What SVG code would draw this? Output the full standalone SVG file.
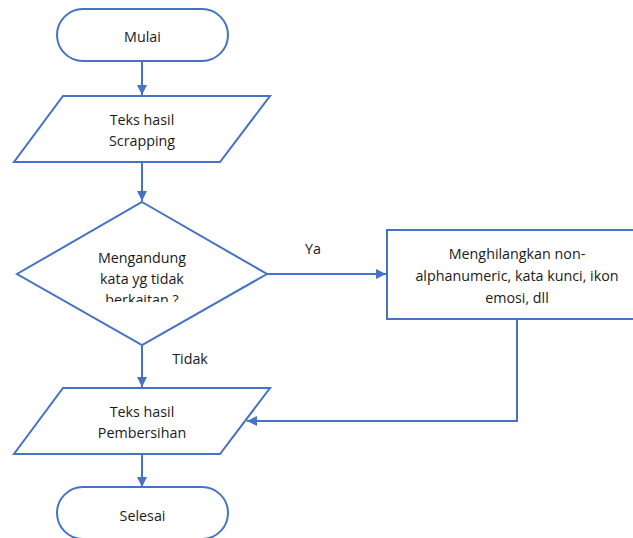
<svg xmlns="http://www.w3.org/2000/svg" width="633" height="538" viewBox="0 0 633 538">
<style>
.s{fill:#fff;stroke:#4472C4;stroke-width:2}
.c{fill:none;stroke:#4472C4;stroke-width:2}
text{font-family:"Open Sans","Liberation Sans",sans-serif;font-size:14.3px;fill:#1a1a1a;text-anchor:middle}
</style>
<defs>
<marker id="a" viewBox="0 0 10 10" refX="10" refY="5" markerWidth="5" markerHeight="5" orient="auto" markerUnits="strokeWidth">
<path d="M0,0 L10,5 L0,10 z" fill="#4472C4"/>
</marker>
<clipPath id="dc"><rect x="60" y="235" width="165" height="67"/></clipPath>
</defs>
<g id="connectors">
<line class="c" x1="142" y1="61" x2="142" y2="95" marker-end="url(#a)"/>
<line class="c" x1="142" y1="162" x2="142" y2="201" marker-end="url(#a)"/>
<line class="c" x1="267" y1="274" x2="386" y2="274" marker-end="url(#a)"/>
<line class="c" x1="142" y1="345" x2="142" y2="387" marker-end="url(#a)"/>
<polyline class="c" points="517,319 517,421 247,421" marker-end="url(#a)"/>
<line class="c" x1="142" y1="454" x2="142" y2="487" marker-end="url(#a)"/>
<text x="313" y="254">Ya</text>
<text x="190" y="364">Tidak</text>
</g>
<g id="mulai">
<rect class="s" x="57" y="9" width="171" height="52" rx="26"/>
<text x="142.5" y="42">Mulai</text>
</g>
<g id="scrapping">
<polygon class="s" points="63,96 270,96 220,162 14,162"/>
<text x="142" y="125">Teks hasil</text>
<text x="142" y="146">Scrapping</text>
</g>
<g id="decision">
<polygon class="s" points="142,202 267,274 142,345 17,274"/>
<g clip-path="url(#dc)">
<text x="142" y="263">Mengandung</text>
<text x="142" y="284">kata yg tidak</text>
<text x="142" y="305">berkaitan ?</text>
</g>
</g>
<g id="proses">
<rect class="s" x="387" y="230" width="250" height="89"/>
<text x="517" y="259">Menghilangkan non-</text>
<text x="517" y="281">alphanumeric, kata kunci, ikon</text>
<text x="517" y="303">emosi, dll</text>
</g>
<g id="pembersihan">
<polygon class="s" points="63,388 270,388 220,454 14,454"/>
<text x="142" y="417">Teks hasil</text>
<text x="142" y="438">Pembersihan</text>
</g>
<g id="selesai">
<rect class="s" x="57" y="487" width="171" height="52" rx="26"/>
<text x="142.5" y="521">Selesai</text>
</g>
</svg>
